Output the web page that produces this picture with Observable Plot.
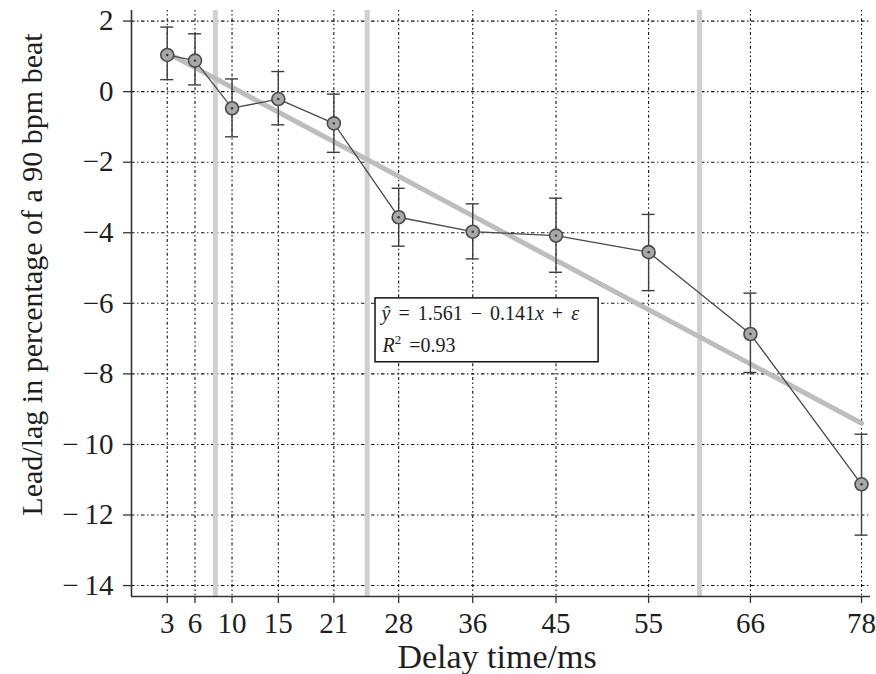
<!DOCTYPE html>
<html>
<head>
<meta charset="utf-8">
<script src="https://cdn.jsdelivr.net/npm/d3@7"></script>
<script src="https://cdn.jsdelivr.net/npm/@observablehq/plot@0.6"></script>
<style>
  body { margin: 0; background: #fff; }
  #chart svg { display: block; }
</style>
</head>
<body>
<div id="chart"></div>
<script>
// ---- data ----
const delays = [3, 6, 10, 15, 21, 28, 36, 45, 55, 66, 78];
const means  = [1.04, 0.88, -0.47, -0.21, -0.90, -3.56, -3.97, -4.08, -4.55, -6.87, -11.13];
const lower  = [0.34, 0.19, -1.28, -0.94, -1.72, -4.38, -4.74, -5.12, -5.64, -7.96, -12.57];
const upper  = [1.83, 1.64, 0.36, 0.57, -0.07, -2.74, -3.18, -3.02, -3.48, -5.71, -9.71];
const xTicks = [3, 6, 10, 15, 21, 28, 36, 45, 55, 66, 78];
const yTicks = [2, 0, -2, -4, -6, -8, -10, -12, -14];
const boundaries = [8.2, 24.6, 60.5];
const fitX = [3, 78];
const fitY = [1.1, -9.4];
const xDomain = [-0.86, 78.97];
const yDomain = [-14.31, 2.30];
const annotBox = [{x1: 25.5, x2: 49.6, y1: -5.86, y2: -7.67}];
const xLabel = "Delay time/ms";
const yLabel = "Lead/lag in percentage of a 90 bpm beat";

const points = delays.map((d, i) => ({x: d, m: means[i], lo: lower[i], hi: upper[i]}));
const fit = fitX.map((d, i) => ({x: d, y: fitY[i]}));

const ink = "#3f3f3f";
const serif = "'Liberation Serif', 'Times New Roman', serif";
const yFmt = d => d < 0 ? (Math.abs(d) >= 10 ? "−\u2009" : "−") + Math.abs(d) : String(d);

const svg = Plot.plot({
  width: 876,
  height: 674,
  marginLeft: 131,
  marginRight: 6,
  marginTop: 10,
  marginBottom: 78,
  x: {domain: xDomain},
  y: {domain: yDomain},
  style: {fontFamily: serif, fontSize: "29px", color: "#1e1e1e", background: "#fff"},
  marks: [
    Plot.gridX({ticks: xTicks, stroke: "#111", strokeOpacity: 1, strokeWidth: 1.1, strokeDasharray: "1.5,2.6,1.5,2.6,3,2.6"}),
    Plot.gridY({ticks: yTicks, stroke: "#111", strokeOpacity: 1, strokeWidth: 1.1, strokeDasharray: "3.5,2.6,1.3,2.6"}),
    Plot.ruleX(boundaries, {stroke: "#d0d0d0", strokeWidth: 5}),
    Plot.line(fit, {x: "x", y: "y", stroke: "#bdbdbd", strokeWidth: 5}),
    Plot.ruleX(points, {x: "x", y1: "lo", y2: "hi", stroke: ink, strokeWidth: 1.4}),
    Plot.ruleY(points, {y: "lo", x1: "x", x2: "x", insetLeft: -6.5, insetRight: -6.5, stroke: ink, strokeWidth: 1.4}),
    Plot.ruleY(points, {y: "hi", x1: "x", x2: "x", insetLeft: -6.5, insetRight: -6.5, stroke: ink, strokeWidth: 1.4}),
    Plot.line(points, {x: "x", y: "m", stroke: "#4a4a4a", strokeWidth: 1.3}),
    Plot.dot(points, {x: "x", y: "m", r: 6.5, fill: "#a8a8a8", stroke: "#4a4a4a", strokeWidth: 1.6}),
    Plot.dot(points, {x: "x", y: "m", r: 1.2, fill: "#333"}),
    Plot.rect(annotBox, {x1: "x1", x2: "x2", y1: "y1", y2: "y2", fill: "#fff", stroke: "#111", strokeWidth: 1.5}),
    Plot.text(annotBox, {x: "x1", y: "y1", text: () => "line1", textAnchor: "start", lineAnchor: "top", dx: 6, dy: 7, fontSize: 20, fontFamily: serif, fill: "#1e1e1e"}),
    Plot.text(annotBox, {x: "x1", y: "y1", text: () => "line2", textAnchor: "start", lineAnchor: "top", dx: 7, dy: 39, fontSize: 20, fontFamily: serif, fill: "#1e1e1e"}),
    Plot.ruleX([xDomain[0]], {stroke: "#333", strokeWidth: 1.6}),
    Plot.ruleY([yDomain[0]], {stroke: "#333", strokeWidth: 1.6}),
    Plot.axisX({ticks: xTicks, tickSize: 7, tickPadding: 8.5, label: null, stroke: "#333", strokeWidth: 1.3}),
    Plot.axisY({ticks: yTicks, tickSize: 8, tickPadding: 10, label: null, stroke: "#333", strokeWidth: 1.3, tickFormat: yFmt}),
    Plot.text([xLabel], {frameAnchor: "bottom", textAnchor: "middle", lineAnchor: "top", dx: -4, dy: 47, fontSize: 34, fontFamily: serif, fill: "#1e1e1e"}),
    Plot.text([yLabel], {frameAnchor: "left", rotate: -90, textAnchor: "middle", lineAnchor: "top", dx: -111, dy: -29, fontSize: 30, fontFamily: serif, fill: "#1e1e1e"})
  ]
});

document.getElementById("chart").appendChild(svg);

// Rich (italic) math text for the regression annotation
const s = d3.select(svg);
function findText(label) {
  return s.selectAll("text").filter(function () { return this.textContent === label; });
}
const t1 = findText("line1");
t1.text(null).attr("word-spacing", "3px");
t1.append("tspan").attr("font-style", "italic").text("ŷ");
t1.append("tspan").text(" = 1.561 − 0.141");
t1.append("tspan").attr("font-style", "italic").text("x");
t1.append("tspan").text(" + ");
t1.append("tspan").attr("font-style", "italic").text("ε");
const t2 = findText("line2");
t2.text(null).attr("word-spacing", "3px");
t2.append("tspan").attr("font-style", "italic").text("R");
t2.append("tspan").attr("font-size", "13px").attr("dy", "-8").text("2");
t2.append("tspan").attr("dy", "8").text(" =0.93");
</script>
</body>
</html>
